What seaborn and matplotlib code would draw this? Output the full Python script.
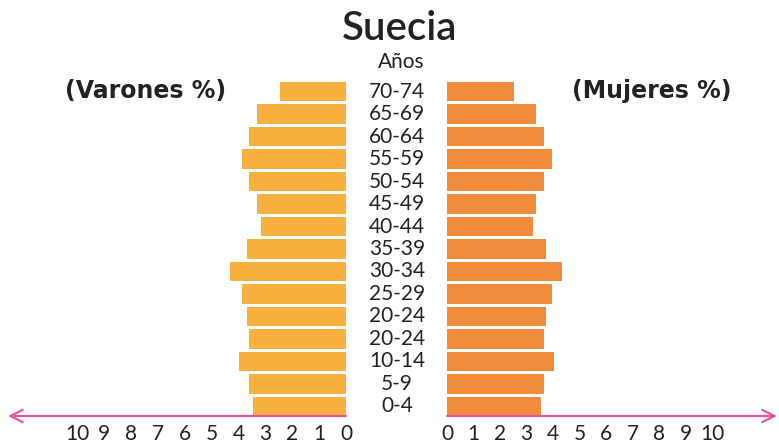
import matplotlib
matplotlib.use("Agg")
import matplotlib.pyplot as plt
import matplotlib.transforms as mtransforms
import pandas as pd
import seaborn as sns

# Grupos de edad, de arriba hacia abajo
edades = ["70-74", "65-69", "60-64", "55-59", "50-54", "45-49", "40-44", "35-39",
          "30-34", "25-29", "20-24", "20-24", "10-14", "5-9", "0-4"]
# Porcentaje de población por grupo
varones = [2.45, 3.3, 3.6, 3.87, 3.6, 3.3, 3.16, 3.68, 4.3, 3.87, 3.68, 3.6, 3.98, 3.6, 3.46]
mujeres = [2.53, 3.36, 3.66, 3.96, 3.66, 3.36, 3.25, 3.74, 4.35, 3.96, 3.74, 3.66, 4.04, 3.66, 3.55]
ticks = list(range(0, 11))

titulo = "Suecia"
subtitulo = "Años"
etiqueta_v = "(Varones %)"
etiqueta_m = "(Mujeres %)"

COL_V = "#F8B03E"
COL_M = "#F28C3A"
ROSA = "#E5559B"
TXT = "#222222"

sns.set_style("white")
plt.rcParams["font.family"] = ["Lato", "DejaVu Sans"]

W, H = 779, 444
fig = plt.figure(figsize=(W / 100, H / 100), dpi=100)

def rect(x0, x1, y0, y1):
    return [x0 / W, 1 - y1 / H, (x1 - x0) / W, (y1 - y0) / H]

axL = fig.add_axes(rect(8, 346, 82, 416))
axR = fig.add_axes(rect(447, 777, 82, 416))

pos = list(range(len(edades)))
df_v = pd.DataFrame({"pos": pos, "pct": varones})
df_m = pd.DataFrame({"pos": pos, "pct": mujeres})

sns.barplot(data=df_v, x="pct", y="pos", orient="h", color=COL_V, saturation=1,
            width=0.85, ax=axL, linewidth=0)
sns.barplot(data=df_m, x="pct", y="pos", orient="h", color=COL_M, saturation=1,
            width=0.85, ax=axR, linewidth=0)

for ax, lim in ((axL, (338 / 26.9, 0)), (axR, (0, 330 / 26.5))):
    ax.set_xlim(*lim)
    ax.set_ylim(len(edades) - 1 + 0.425, -0.425)
    ax.set_yticks([])
    ax.set_xticks(ticks)
    ax.set_xticklabels([str(t) for t in ticks], fontsize=15, color=TXT)
    ax.tick_params(axis="x", length=0, pad=6)
    ax.set_xlabel("")
    ax.set_ylabel("")
    for s in ax.spines.values():
        s.set_visible(False)
    ax.patch.set_alpha(0)

# Ejes horizontales con flecha
axL.annotate("", xy=(0, 0), xytext=(1, 0), xycoords="axes fraction",
             arrowprops=dict(arrowstyle="->", color=ROSA, lw=1.6, mutation_scale=22,
                             shrinkA=0, shrinkB=0), annotation_clip=False, zorder=5)
axR.annotate("", xy=(1, 0), xytext=(0, 0), xycoords="axes fraction",
             arrowprops=dict(arrowstyle="->", color=ROSA, lw=1.6, mutation_scale=22,
                             shrinkA=0, shrinkB=0), annotation_clip=False, zorder=5)

# Etiquetas de edad centradas entre ambas mitades
tr = mtransforms.blended_transform_factory(fig.transFigure, axL.transData)
for i, e in enumerate(edades):
    fig.text(397 / W, i, e, transform=tr, ha="center", va="center",
             fontsize=15, color=TXT)

fig.text(400 / W, 1 - 28 / H, titulo, ha="center", va="center", fontsize=29,
         color=TXT, fontweight="semibold")
fig.text(401 / W, 1 - 62 / H, subtitulo, ha="center", va="center", fontsize=15,
         color=TXT)
fig.text(146 / W, 1 - 91 / H, etiqueta_v, ha="center", va="center", fontsize=17,
         color=TXT, fontweight="bold", family="DejaVu Sans")
fig.text(652 / W, 1 - 91 / H, etiqueta_m, ha="center", va="center", fontsize=17,
         color=TXT, fontweight="bold", family="DejaVu Sans")

fig.savefig("out.png", dpi=100)
